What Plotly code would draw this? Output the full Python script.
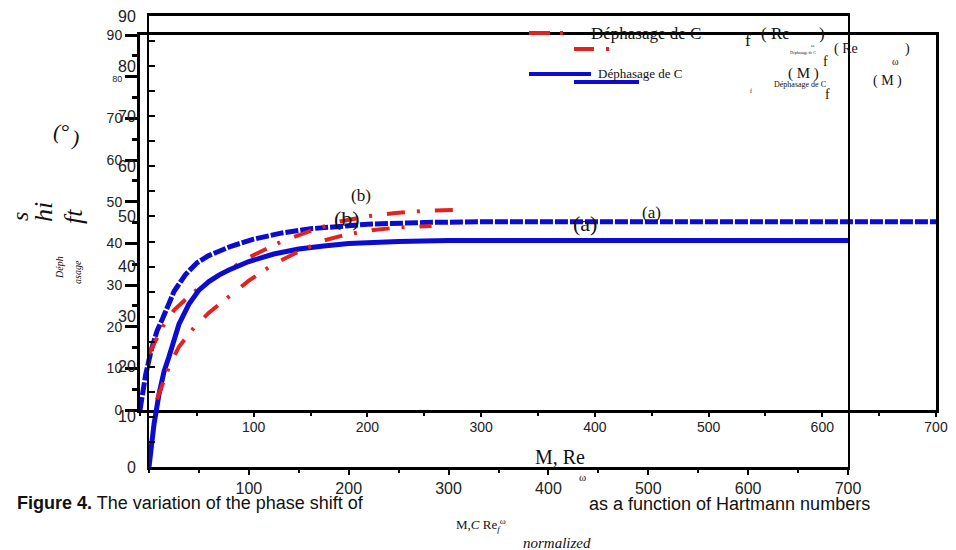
import plotly.graph_objects as go

# ---------------- data ----------------
# Hartmann number M (blue, solid) and Re_omega (red, dash-dot) -> phase shift (deg)
m_values = [0, 5, 10, 15, 20, 25, 30, 40, 50, 60, 70, 80, 100, 125, 150, 175, 200, 250, 300, 400, 500, 600, 700]
shift_m = [0, 8.5, 14.5, 19, 22, 25.5, 28.5, 32.5, 35.3, 37.0, 38.3, 39.3, 41.0, 42.5, 43.5, 44.1, 44.6, 45.0, 45.2, 45.2, 45.2, 45.2, 45.2]

re_values = [8, 15, 20, 30, 45, 60, 80, 100, 125, 150, 175, 200, 225, 250, 283]
shift_re = [13.5, 17.5, 20.0, 24.0, 27.8, 30.8, 34.0, 37.2, 40.5, 43.0, 45.2, 46.5, 47.3, 47.8, 48.1]

x_tick_vals = [100, 200, 300, 400, 500, 600, 700]
x_tick_text = ["100", "200", "300", "400", "500", "600", "700"]
y_tick_vals = [0, 10, 20, 30, 40, 50, 60, 70, 80, 90]
y_tick_text_a = ["0", "10", "20", "30", "40", "50", "60", "70", '<span style="font-size:9px">80</span>', "90"]
y2_tick_vals = [0, 5, 10, 15, 20, 25, 30, 35, 40, 45, 50, 55, 60, 65, 70, 75, 80, 85, 90]
y2_tick_text = ["0", "", "10", "", "20", "", "30", "", "40", "", "50", "", "60", "", "70", "", "80", "", "90"]

# page is 956x550; the html body adds an 8px margin, so the figure itself is 948x542
OFF = 8
W, H = 956 - OFF, 550 - OFF
RED = "#e3211d"
BLUE = "#0b0bd2"
SANS = "Liberation Sans"
SERIF = "Liberation Serif"


def px(x):
    return (x - OFF) / W


def py(y):
    return 1 - (y - OFF) / H


fig = go.Figure()

# copy (a): outer thick frame
fig.add_trace(go.Scatter(x=m_values, y=shift_m, mode="lines", xaxis="x", yaxis="y",
                         line=dict(color=BLUE, width=5, dash="13px,2px"), showlegend=False))
fig.add_trace(go.Scatter(x=re_values, y=shift_re, mode="lines", xaxis="x", yaxis="y",
                         line=dict(color=RED, width=4, dash="18px,12px,3px,15px"), showlegend=False))
# copy (b): inner thin frame
fig.add_trace(go.Scatter(x=m_values, y=shift_m, mode="lines", xaxis="x2", yaxis="y2",
                         line=dict(color=BLUE, width=5), showlegend=False))
fig.add_trace(go.Scatter(x=re_values, y=shift_re, mode="lines", xaxis="x2", yaxis="y2",
                         line=dict(color=RED, width=4, dash="18px,12px,3px,15px"), showlegend=False))

common = dict(showgrid=False, zeroline=False, linecolor="black", mirror=True, tickcolor="black",
              automargin=False, ticklabeloverflow="allow")

fig.update_layout(
    width=W, height=H,
    margin=dict(l=0, r=0, t=0, b=0, pad=0, autoexpand=False),
    paper_bgcolor="white", plot_bgcolor="rgba(0,0,0,0)",
    xaxis=dict(domain=[px(140), px(936)], anchor="y", range=[0, 700], showline=True, linewidth=3,
               ticks="outside", ticklen=4, tickwidth=2, tickvals=x_tick_vals, ticktext=x_tick_text,
               ticklabelstandoff=-2,
               minor=dict(dtick=50, ticks="outside", ticklen=3, tickwidth=2),
               tickfont=dict(family=SANS, size=14, color="#222"), **common),
    yaxis=dict(domain=[py(410), py(35)], anchor="x", range=[0, 90], showline=True, linewidth=3,
               ticks="outside", ticklen=12, tickwidth=3, tickvals=y_tick_vals, ticktext=y_tick_text_a,
               minor=dict(dtick=5, ticks="outside", ticklen=5, tickwidth=3),
               tickfont=dict(family=SANS, size=14, color="#222"), **common),
    xaxis2=dict(domain=[px(149), px(848)], anchor="y2", range=[0, 700], showline=True, linewidth=2.5,
                ticks="outside", ticklen=5, tickwidth=2, tickvals=x_tick_vals, ticktext=x_tick_text,
                minor=dict(dtick=50, ticks="outside", ticklen=3, tickwidth=2),
                tickfont=dict(family=SANS, size=16, color="#222"), **common),
    yaxis2=dict(domain=[py(467), py(16)], anchor="x2", range=[0, 90], showline=True, linewidth=2,
                ticks="inside", ticklen=6, tickwidth=2, tickvals=y2_tick_vals, ticktext=y2_tick_text,
                ticklabelstandoff=8,
                tickfont=dict(family=SANS, size=16, color="#222"), **common),
)

# legend samples (decoration)
shapes = [
    dict(type="line", xref="paper", yref="paper", x0=px(529), x1=px(563), y0=py(33), y1=py(33),
         line=dict(color=RED, width=4, dash="21px,10px,3px,10px")),
    dict(type="line", xref="paper", yref="paper", x0=px(574), x1=px(610), y0=py(49), y1=py(49),
         line=dict(color=RED, width=4, dash="20px,12px,3px,10px")),
    dict(type="line", xref="paper", yref="paper", x0=px(529), x1=px(591), y0=py(74), y1=py(74),
         line=dict(color=BLUE, width=4)),
    dict(type="line", xref="paper", yref="paper", x0=px(574), x1=px(639), y0=py(82), y1=py(82),
         line=dict(color=BLUE, width=4)),
]
fig.update_layout(shapes=shapes)


def ann(text, x, y, size, family=SERIF, anchor="center", angle=0, color="#111", italic=False, valign="middle"):
    fig.add_annotation(text=text, x=px(x), y=py(y), xref="paper", yref="paper", showarrow=False,
                       xanchor=anchor, yanchor=valign, textangle=angle, borderpad=0,
                       font=dict(family=family, size=size, color=color,
                                 style="italic" if italic else "normal"))


# legend texts and formula fragments
ann("Déphasage de C", 590, 33, 17, anchor="left")
ann("Déphasage de C", 597, 73, 13, anchor="left")
ann("f", 748, 41, 17)
ann("( Re", 760, 33, 17, anchor="left")
ann(")", 822, 33, 17)
ann("ω", 813, 46, 5)
ann("Déphasage de C", 803, 52, 4)
ann("( Re", 833, 49, 14, anchor="left")
ann(")", 907, 49, 14)
ann("f", 825, 61, 14)
ann("ω", 895, 62, 10)
ann("( M )", 787, 73, 15, anchor="left")
ann("Déphasage de C", 773, 85, 8, anchor="left")
ann("f", 751, 91, 6)
ann("f", 827, 95, 14)
ann("( M )", 872, 81, 14, anchor="left")

# curve labels
ann("(b)", 361, 195, 17)
ann("(b)", 347, 218, 22)
ann("(a)", 585, 223, 22)
ann("(a)", 651, 212, 17)

# axis title fragments
ann("M, Re", 560, 457, 20)
ann("ω", 582, 477, 11)
ann("s", 20, 217, 24, angle=-90, italic=True)
ann("hi", 43, 212, 26, angle=-90, italic=True)
ann("ft", 73, 217, 26, angle=-90, italic=True)
ann("(°", 61, 131, 22, italic=True)
ann(")", 74, 138, 22, italic=True)
ann("Déph", 60, 268, 10, angle=-90, italic=True)
ann("asage", 77, 272, 10, angle=-90, italic=True)

# caption
ann("<b>Figure 4.</b> The variation of the phase shift of", 16, 503, 18, family=SANS, anchor="left")
ann("as a function of Hartmann numbers", 588, 504, 18, family=SANS, anchor="left")
ann("M,<i>C</i> Re<sub><i>f</i></sub><sup>ω</sup>", 455, 525, 13, anchor="left")
ann("normalized", 522, 543, 15, anchor="left", italic=True)

fig.write_html("out.html")
